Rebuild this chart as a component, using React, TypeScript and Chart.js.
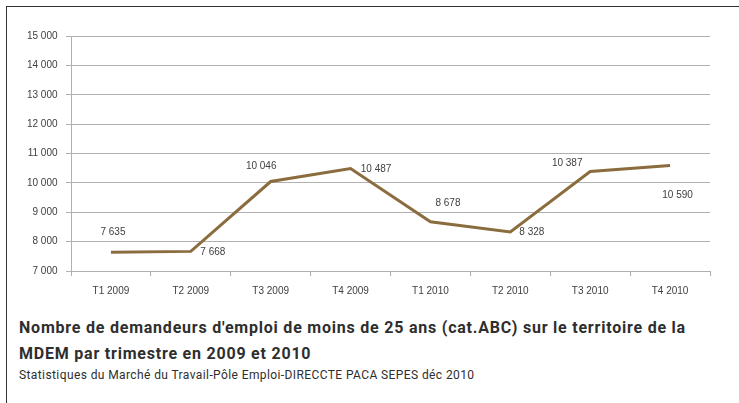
import React, { useEffect, useRef } from "react";
import { Chart, registerables } from "chart.js";

Chart.register(...registerables);

const categories = ["T1 2009", "T2 2009", "T3 2009", "T4 2009", "T1 2010", "T2 2010", "T3 2010", "T4 2010"];
const jobSeekers = [7635, 7668, 10046, 10487, 8678, 8328, 10387, 10590];
const yMin = 7000;
const yMax = 15000;
const yStep = 1000;

const titleLine1 = "Nombre de demandeurs d'emploi de moins de 25 ans (cat.ABC) sur le territoire de la";
const titleLine2 = "MDEM par trimestre en 2009 et 2010";
const subtitle = "Statistiques du Marché du Travail-Pôle Emploi-DIRECCTE PACA SEPES déc 2010";

const fmt = (v: number) => String(Math.round(v)).replace(/\B(?=(\d{3})+(?!\d))/g, " ");

export default function App() {
  const ref = useRef<HTMLCanvasElement | null>(null);

  useEffect(() => {
    if (!ref.current) return;
    const labelOffsets = [
      [2, -20.5], [22, 1.3], [-9.5, -15], [25.5, 0.7],
      [17.5, -18.4], [21.5, 0], [-23, -8.2], [7.5, 29.5],
    ];
    const labelPlugin = {
      id: "pointLabels",
      afterDatasetsDraw(chart: any) {
        const ctx = chart.ctx;
        const meta = chart.getDatasetMeta(0);
        ctx.save();
        ctx.font = "10px 'Liberation Sans', Arial, sans-serif";
        ctx.fillStyle = "#404040";
        ctx.textAlign = "center";
        ctx.textBaseline = "middle";
        meta.data.forEach((pt: any, i: number) => {
          const [dx, dy] = labelOffsets[i];
          ctx.fillText(fmt(jobSeekers[i]), pt.x + dx, pt.y + dy);
        });
        ctx.restore();
      },
    };
    const chart = new Chart(ref.current, {
      type: "line",
      data: {
        labels: categories,
        datasets: [
          {
            data: jobSeekers,
            borderColor: "#8b6c3e",
            borderWidth: 3,
            pointRadius: 0,
            tension: 0,
            fill: false,
          },
        ],
      },
      options: {
        responsive: false,
        animation: false,
        layout: { padding: { top: 36, right: 29, bottom: 9, left: 0 } },
        plugins: { legend: { display: false }, tooltip: { enabled: false }, title: { display: false } },
        scales: {
          x: {
            offset: true,
            grid: { offset: true, drawOnChartArea: false, tickLength: 5, color: "#b0b0b0" },
            border: { color: "#b0b0b0" },
            ticks: { color: "#404040", font: { family: "'Liberation Sans', Arial, sans-serif", size: 10 }, padding: 9, maxRotation: 0 },
            afterFit: (s: any) => { s.height = 30; },
          },
          y: {
            min: yMin,
            max: yMax,
            ticks: {
              stepSize: yStep,
              color: "#404040",
              font: { family: "'Liberation Sans', Arial, sans-serif", size: 10 },
              padding: 8.5,
              callback: (v: any) => fmt(Number(v)),
            },
            grid: { color: "#b0b0b0", tickLength: 5 },
            border: { color: "#b0b0b0" },
            afterFit: (s: any) => { s.width = 71; },
          },
        },
      },
      plugins: [labelPlugin],
    } as any);
    return () => chart.destroy();
  }, []);

  const textBase: React.CSSProperties = {
    position: "absolute",
    left: 19,
    whiteSpace: "nowrap",
    fontFamily: "Roboto, 'DejaVu Sans', sans-serif",
    color: "#2e2e2e",
    lineHeight: 1,
  };

  return (
    <div style={{ position: "absolute", left: 0, top: 0, width: 739, height: 403, background: "#fff", overflow: "hidden" }}>
      <div style={{ position: "absolute", left: 6, top: 6, width: 733, height: 397, borderLeft: "1px solid #333", borderTop: "1px solid #333" }} />
      <canvas ref={ref} width={739} height={310} style={{ position: "absolute", left: 0, top: 0, width: 739, height: 310 }} />
      <div style={{ ...textBase, top: 320, fontSize: 16, fontWeight: 700, letterSpacing: "0.78px" }}>{titleLine1}</div>
      <div style={{ ...textBase, top: 346, fontSize: 16, fontWeight: 700, letterSpacing: "0.78px" }}>{titleLine2}</div>
      <div style={{ ...textBase, top: 369, fontSize: 12, fontWeight: 400, letterSpacing: "0.4px" }}>{subtitle}</div>
    </div>
  );
}
